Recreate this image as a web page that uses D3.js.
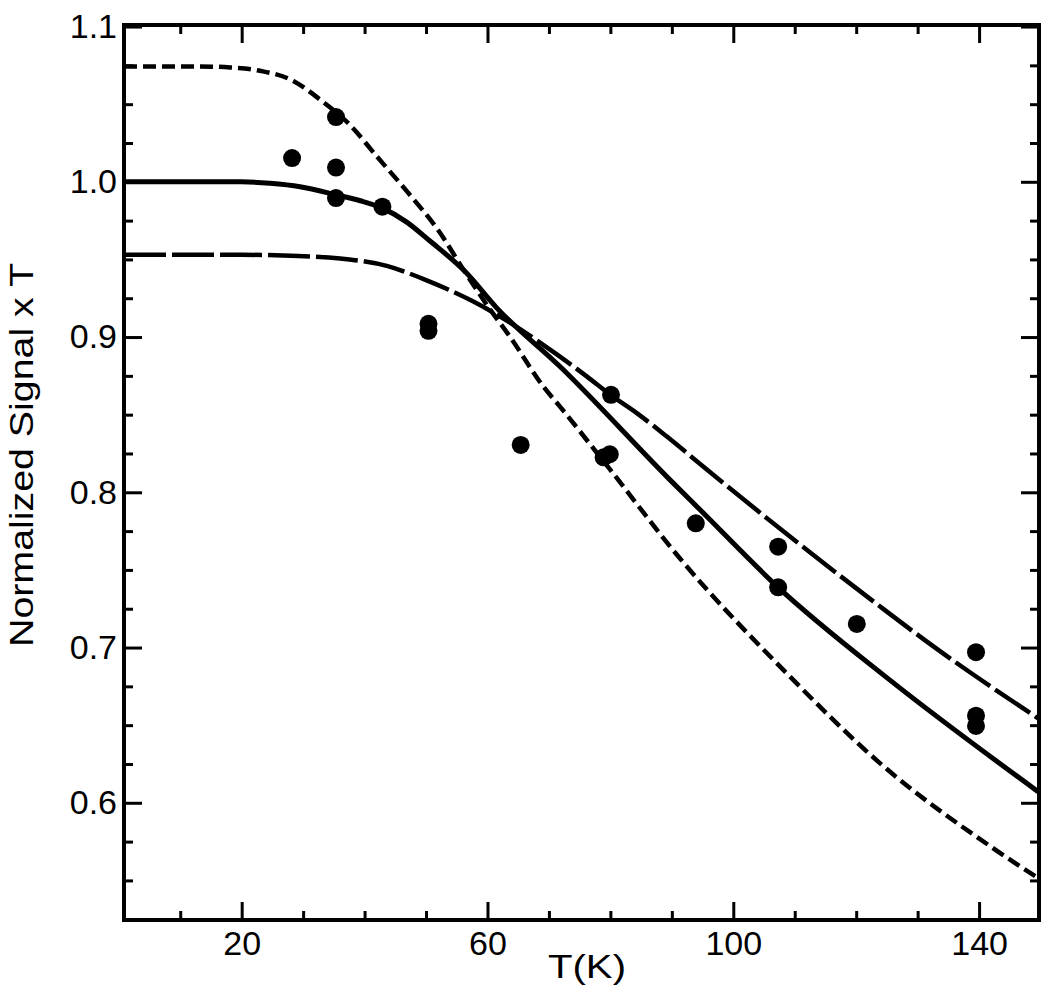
<!DOCTYPE html>
<html>
<head>
<meta charset="utf-8">
<script src="https://cdn.jsdelivr.net/npm/d3@7"></script>
<style>
  body { margin: 0; background: #fff; }
  text { font-family: "Liberation Sans", Arial, sans-serif; fill: #000; }
</style>
</head>
<body>
<div id="chart"></div>
<script>
// Measured points (T in K, normalized signal x T)
var pointT = [28.2, 35.35, 35.35, 35.35, 42.9, 50.4, 50.4, 65.4, 80.1, 78.9, 79.9, 93.9, 107.3, 107.3, 120.1, 139.5, 139.5, 139.5];
var pointSignal = [1.0153, 1.0417, 1.0092, 0.9895, 0.984, 0.9085, 0.904, 0.8305, 0.8628, 0.8225, 0.8245, 0.78, 0.765, 0.7388, 0.7152, 0.697, 0.6561, 0.6495];

// Model curves
var solidT = [0.85, 20, 24.6, 29.5, 35.4, 39.3, 42.8, 46.8, 50.6, 56.4, 61.5, 71.8, 89.7, 94.6, 107.3, 125.5, 149.6];
var solidSignal = [1.0, 1.0, 0.999, 0.9968, 0.9916, 0.9878, 0.9832, 0.9742, 0.962, 0.942, 0.9188, 0.881, 0.808, 0.7887, 0.7388, 0.679, 0.6072];

var shortDashT = [0.85, 13.2, 18.1, 23.0, 28.4, 32.8, 37.6, 42, 46.9, 52.3, 56.1, 59.9, 63.7, 69.1, 71.8, 80, 91.3, 108.7, 123.9, 142.3, 149.6];
var shortDashSignal = [1.0743, 1.0743, 1.0737, 1.0715, 1.0650, 1.0528, 1.0367, 1.0163, 0.9938, 0.967, 0.9433, 0.9207, 0.900, 0.8681, 0.8552, 0.8144, 0.7575, 0.6834, 0.6254, 0.5707, 0.5515];

var longDashT = [0.85, 20, 28, 36, 43.6, 50.1, 57.7, 71.8, 76.2, 80, 84.3, 89.2, 95.1, 123.9, 131.5, 149.6];
var longDashSignal = [0.953, 0.953, 0.9524, 0.9506, 0.9458, 0.9365, 0.9229, 0.8874, 0.8745, 0.8628, 0.851, 0.8359, 0.8166, 0.7264, 0.7038, 0.6544];

// Axis ticks
var xMajorTicks = [20, 60, 100, 140];
var xMinorTicks = [10, 30, 40, 50, 70, 80, 90, 110, 120, 130];
var yMajorTicks = [0.6, 0.7, 0.8, 0.9, 1.0, 1.1];
var yMinorTicks = [0.55, 0.575, 0.625, 0.65, 0.675, 0.725, 0.75, 0.775, 0.825, 0.85, 0.875, 0.925, 0.95, 0.975, 1.025, 1.05, 1.075];

var svgWidth = 1050;
var svgHeight = 998;
var margin = { top: 25, right: 11, bottom: 78, left: 124 };
var width = svgWidth - margin.left - margin.right;
var height = svgHeight - margin.top - margin.bottom;

var svg = d3.select("#chart")
  .append("svg")
  .attr("width", svgWidth)
  .attr("height", svgHeight);

var chartGroup = svg.append("g")
  .attr("transform", `translate(${margin.left}, ${margin.top})`);

var xScale = d3.scaleLinear().domain([0.85, 149.75]).range([0, width]);
var yScale = d3.scaleLinear().domain([0.5245, 1.101]).range([height, 0]);

chartGroup.append("clipPath")
  .attr("id", "plotClip")
  .append("rect")
  .attr("width", width)
  .attr("height", height);

// Axes: major and minor ticks pointing inward on all four sides
function styleAxis(g) {
  g.select(".domain").remove();
  g.selectAll(".tick line").attr("stroke", "#000").attr("stroke-width", 3);
}

chartGroup.append("g")
  .attr("transform", `translate(0, ${height})`)
  .call(d3.axisBottom(xScale).tickValues(xMajorTicks).tickSize(-18).tickFormat(d3.format("d")))
  .call(styleAxis)
  .call(g => g.selectAll("text").attr("y", 35).attr("dy", null).style("font-size", "34px"));

chartGroup.append("g")
  .attr("transform", `translate(0, ${height})`)
  .call(d3.axisBottom(xScale).tickValues(xMinorTicks).tickSize(-9).tickFormat(""))
  .call(styleAxis);

chartGroup.append("g")
  .call(d3.axisTop(xScale).tickValues(xMajorTicks).tickSize(-18).tickFormat(""))
  .call(styleAxis);

chartGroup.append("g")
  .call(d3.axisTop(xScale).tickValues(xMinorTicks).tickSize(-9).tickFormat(""))
  .call(styleAxis);

chartGroup.append("g")
  .call(d3.axisLeft(yScale).tickValues(yMajorTicks).tickSize(-18).tickPadding(7).tickFormat(d3.format(".1f")))
  .call(styleAxis)
  .call(g => g.selectAll("text").style("font-size", "34px"));

chartGroup.append("g")
  .call(d3.axisLeft(yScale).tickValues(yMinorTicks).tickSize(-9).tickFormat(""))
  .call(styleAxis);

chartGroup.append("g")
  .attr("transform", `translate(${width}, 0)`)
  .call(d3.axisRight(yScale).tickValues(yMajorTicks).tickSize(-18).tickFormat(""))
  .call(styleAxis);

chartGroup.append("g")
  .attr("transform", `translate(${width}, 0)`)
  .call(d3.axisRight(yScale).tickValues(yMinorTicks).tickSize(-9).tickFormat(""))
  .call(styleAxis);

// Curves
var line = d3.line()
  .x(d => xScale(d[0]))
  .y(d => yScale(d[1]))
  .curve(d3.curveMonotoneX);

var curves = [
  { t: solidT, s: solidSignal, dash: null, w: 5 },
  { t: shortDashT, s: shortDashSignal, dash: "13,6", w: 4.5 },
  { t: longDashT, s: longDashSignal, dash: "42,6", w: 4.5 }
];

var curveGroup = chartGroup.append("g").attr("clip-path", "url(#plotClip)");

curves.forEach(function(c) {
  curveGroup.append("path")
    .datum(d3.zip(c.t, c.s))
    .attr("d", line)
    .attr("fill", "none")
    .attr("stroke", "#000")
    .attr("stroke-width", c.w)
    .attr("stroke-dasharray", c.dash);
});

// Data points
chartGroup.selectAll(".dot")
  .data(d3.zip(pointT, pointSignal))
  .enter()
  .append("circle")
  .attr("class", "dot")
  .attr("cx", d => xScale(d[0]))
  .attr("cy", d => yScale(d[1]))
  .attr("r", 9)
  .attr("fill", "#000");

// Frame
chartGroup.append("rect")
  .attr("width", width)
  .attr("height", height)
  .attr("fill", "none")
  .attr("stroke", "#000")
  .attr("stroke-width", 4);

// Axis titles
svg.append("text")
  .attr("x", 587)
  .attr("y", 978)
  .attr("text-anchor", "middle")
  .attr("textLength", 78)
  .attr("lengthAdjust", "spacingAndGlyphs")
  .style("font-size", "34px")
  .text("T(K)");

svg.append("text")
  .attr("transform", "rotate(-90)")
  .attr("x", -455)
  .attr("y", 33)
  .attr("text-anchor", "middle")
  .attr("textLength", 384)
  .attr("lengthAdjust", "spacingAndGlyphs")
  .style("font-size", "34px")
  .text("Normalized Signal x T");
</script>
</body>
</html>
